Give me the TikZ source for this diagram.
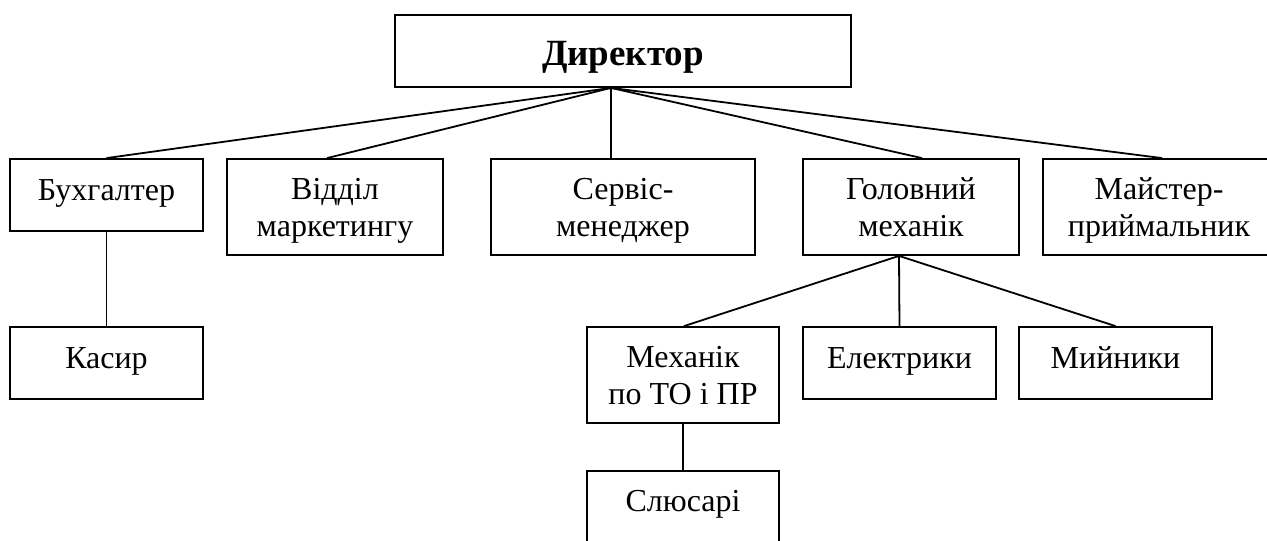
\documentclass[tikz,border=0pt]{standalone}
\usepackage{fontspec}
\setmainfont{Liberation Serif}
\tikzset{
  box/.style={draw=black, line width=1.8pt, rectangle, inner sep=0pt},
  txt/.style={inner sep=0pt, align=center, anchor=north,
    font=\fontsize{32}{37}\selectfont},
  link/.style={draw=black, line width=1.8pt},
}
\newcommand{\myln}[1]{\strut#1}
\begin{document}
\begin{tikzpicture}[x=1pt,y=-1pt]
\useasboundingbox (0,0) rectangle (1267,541);
% top
\node[box, minimum width=456pt, minimum height=72pt] (dir) at (623,51) {};
\node[inner sep=0pt, anchor=base, font=\fontsize{37}{42}\selectfont\bfseries] (dir-t) at ([yshift=-51pt]dir.north) {Директор};
% row 1
\node[box, minimum width=193pt, minimum height=72pt] (buh) at (106.5,195) {};
\node[box, minimum width=216pt, minimum height=96pt] (vid) at (335,207) {};
\node[box, minimum width=264pt, minimum height=96pt] (serv) at (623,207) {};
\node[box, minimum width=216pt, minimum height=96pt] (gol) at (911,207) {};
\node[box, minimum width=232pt, minimum height=96pt] (mai) at (1159,207) {};
% row 2
\node[box, minimum width=193pt, minimum height=72pt] (kas) at (106.5,363) {};
\node[box, minimum width=192pt, minimum height=96pt] (mex) at (683,375) {};
\node[box, minimum width=193pt, minimum height=72pt] (ele) at (899.5,363) {};
\node[box, minimum width=193pt, minimum height=72pt] (mij) at (1115.5,363) {};
% row 3
\node[box, minimum width=192pt, minimum height=72pt] (slu) at (683,507) {};
% texts
\node[txt] (buh-t) at ([yshift=-16pt]buh.north) {\myln{Бухгалтер}};
\node[txt] (vid-t) at ([yshift=-15pt]vid.north) {\myln{Відділ}\\\myln{маркетингу}};
\node[txt] (serv-t) at ([yshift=-15pt]serv.north) {\myln{Сервіс-}\\\myln{менеджер}};
\node[txt] (gol-t) at ([yshift=-15pt]gol.north) {\myln{Головний}\\\myln{механік}};
\node[txt] (mai-t) at ([yshift=-15pt]mai.north) {\myln{Майстер-}\\\myln{приймальник}};
\node[txt] (kas-t) at ([yshift=-16pt]kas.north) {\myln{Касир}};
\node[txt] (mex-t) at ([yshift=-15pt]mex.north) {\myln{Механік}\\\myln{по ТО і ПР}};
\node[txt] (ele-t) at ([yshift=-16pt]ele.north) {\myln{Електрики}};
\node[txt] (mij-t) at ([yshift=-16pt]mij.north) {\myln{Мийники}};
\node[txt] (slu-t) at ([yshift=-15pt]slu.north) {\myln{Слюсарі}};
% connectors
\coordinate (dirb) at ([xshift=-12pt]dir.south);
\draw[link] (dirb) -- (buh.north);
\draw[link] (dirb) -- ([xshift=-8pt]vid.north);
\draw[link] (dirb) -- ([xshift=-12pt]serv.north);
\draw[link] (dirb) -- ([xshift=11pt]gol.north);
\draw[link] (dirb) -- ([xshift=3pt]mai.north);
\coordinate (golb) at ([xshift=-12pt]gol.south);
\draw[link] (golb) -- ([xshift=1pt]mex.north);
\draw[link] (golb) -- (ele.north);
\draw[link] (golb) -- (mij.north);
\draw[link] (buh.south) -- (kas.north);
\draw[link] (mex.south) -- (slu.north);
\end{tikzpicture}
\end{document}
